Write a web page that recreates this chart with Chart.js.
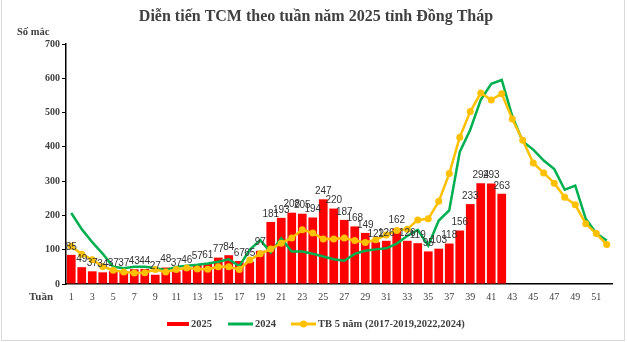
<!DOCTYPE html>
<html>
<head>
<meta charset="utf-8">
<script src="https://cdn.jsdelivr.net/npm/chart.js@4.4.0/dist/chart.umd.min.js"></script>
<style>
  html, body { margin: 0; padding: 0; background: #fff; }
  #wrap { position: relative; width: 627px; height: 342px; }
</style>
</head>
<body>
<div id="wrap"><canvas id="chart"></canvas></div>
<script>
const weeks = ['1','2','3','4','5','6','7','8','9','10','11','12','13','14','15','16','17','18','19','20',
  '21','22','23','24','25','26','27','28','29','30','31','32','33','34','35','36','37','38','39','40',
  '41','42','43','44','45','46','47','48','49','50','51','52'];

// so mac 2025 (tuan 1-42)
const cases2025 = [85,49,37,34,37,37,43,44,27,48,37,46,57,61,77,84,67,65,97,181,
  193,208,205,194,247,220,187,168,149,122,126,162,126,119,95,103,118,156,233,294,293,263];

// nam 2024
const cases2024 = [207,160,122,88,50,46,50,50,47,40,50,53,56,60,65,72,52,100,128,92,
  133,95,95,88,80,72,68,88,97,101,104,118,140,158,112,185,215,385,450,537,
  584,595,490,416,392,360,335,275,287,190,148,127];

// trung binh 5 nam (2017-2019, 2022, 2024)
const avg5y = [110,87,71,51,40,35,32,33,42,35,42,47,44,43,50,50,42,70,88,102,
  119,134,158,149,131,131,134,127,121,129,143,156,160,187,190,241,322,428,503,557,
  537,555,481,419,353,324,294,253,231,176,147,115];

const yTicks = [0,100,200,300,400,500,600,700];

const serif = '"Liberation Serif", "Times New Roman", serif';
const textGray = '#404040';

const extras = {
  id: 'extras',
  afterDatasetsDraw(chart) {
    const ctx = chart.ctx;
    const idx = chart.data.datasets.findIndex(d => d.type === 'bar');
    const meta = chart.getDatasetMeta(idx);
    ctx.save();
    ctx.font = '10px "Liberation Sans", Arial, sans-serif';
    ctx.fillStyle = '#333';
    ctx.textAlign = 'center';
    ctx.textBaseline = 'bottom';
    meta.data.forEach((bar, i) => {
      ctx.fillText(String(cases2025[i]), bar.x, bar.y - 3);
    });
    ctx.restore();
  },
  afterDraw(chart) {
    const ctx = chart.ctx;
    ctx.save();
    // tieu de
    ctx.fillStyle = textGray;
    ctx.font = 'bold 16px ' + serif;
    ctx.textAlign = 'center';
    ctx.textBaseline = 'middle';
    ctx.fillText('Diễn tiến TCM theo tuần năm 2025 tỉnh Đồng Tháp', 316, 17);

    ctx.font = 'bold 10.5px ' + serif;
    ctx.textAlign = 'left';
    ctx.fillText('Số mắc', 17, 32);
    ctx.font = 'bold 11px ' + serif;
    ctx.fillText('Tuần', 29, 297);

    // chu giai
    const ly = 324;
    ctx.font = 'bold 10.5px ' + serif;
    ctx.fillStyle = '#FF0000';
    ctx.fillRect(167, ly - 2, 22, 4);
    ctx.fillStyle = textGray;
    ctx.fillText('2025', 191, ly);

    ctx.strokeStyle = '#00B050';
    ctx.lineWidth = 3;
    ctx.beginPath(); ctx.moveTo(228, ly); ctx.lineTo(253, ly); ctx.stroke();
    ctx.fillText('2024', 255, ly);

    ctx.strokeStyle = '#FFC000';
    ctx.beginPath(); ctx.moveTo(291, ly); ctx.lineTo(316, ly); ctx.stroke();
    ctx.fillStyle = '#FFC000';
    ctx.beginPath(); ctx.arc(303.5, ly, 3.5, 0, Math.PI * 2); ctx.fill();
    ctx.fillStyle = textGray;
    ctx.fillText('TB 5 năm (2017-2019,2022,2024)', 318, ly);

    // khung
    ctx.strokeStyle = '#d9d9d9';
    ctx.lineWidth = 1;
    ctx.strokeRect(1.5, -1, 623, 341.5);
    ctx.restore();
  }
};

new Chart(document.getElementById('chart'), {
  data: {
    labels: weeks,
    datasets: [
      {
        type: 'line',
        label: 'TB 5 năm (2017-2019,2022,2024)',
        data: avg5y,
        borderColor: '#FFC000',
        backgroundColor: '#FFC000',
        borderWidth: 2.5,
        pointRadius: 3.5,
        pointBorderWidth: 0,
        tension: 0,
        order: 1
      },
      {
        type: 'line',
        label: '2024',
        data: cases2024,
        borderColor: '#00B050',
        backgroundColor: '#00B050',
        borderWidth: 2.5,
        pointRadius: 0,
        tension: 0,
        order: 2
      },
      {
        type: 'bar',
        label: '2025',
        data: cases2025,
        backgroundColor: '#FF0000',
        categoryPercentage: 1,
        barPercentage: 0.83,
        order: 3
      }
    ]
  },
  options: {
    responsive: true,
    maintainAspectRatio: false,
    animation: false,
    layout: { padding: { top: 44, right: 15, left: 0, bottom: 0 } },
    plugins: {
      legend: { display: false },
      title: { display: false },
      tooltip: { enabled: false }
    },
    scales: {
      x: {
        offset: true,
        grid: { display: false, drawTicks: false },
        border: { display: true, color: '#000', width: 1.5 },
        ticks: {
          autoSkip: false,
          maxRotation: 0,
          padding: 7,
          color: textGray,
          font: { family: serif, size: 10 },
          callback: (v, i) => (i % 2 === 0 ? weeks[i] : '')
        },
        afterFit: s => { s.height = 58; }
      },
      y: {
        min: 0,
        max: 700,
        afterBuildTicks: s => { s.ticks = yTicks.map(v => ({ value: v })); },
        grid: { display: true, drawOnChartArea: false, drawTicks: true, tickLength: 4, color: '#000' },
        border: { display: true, color: '#000', width: 1.5 },
        ticks: {
          padding: 2,
          color: textGray,
          font: { family: serif, size: 10, weight: 'bold' }
        },
        afterFit: s => { s.width = 66; }
      }
    }
  },
  plugins: [extras]
});
</script>
</body>
</html>
